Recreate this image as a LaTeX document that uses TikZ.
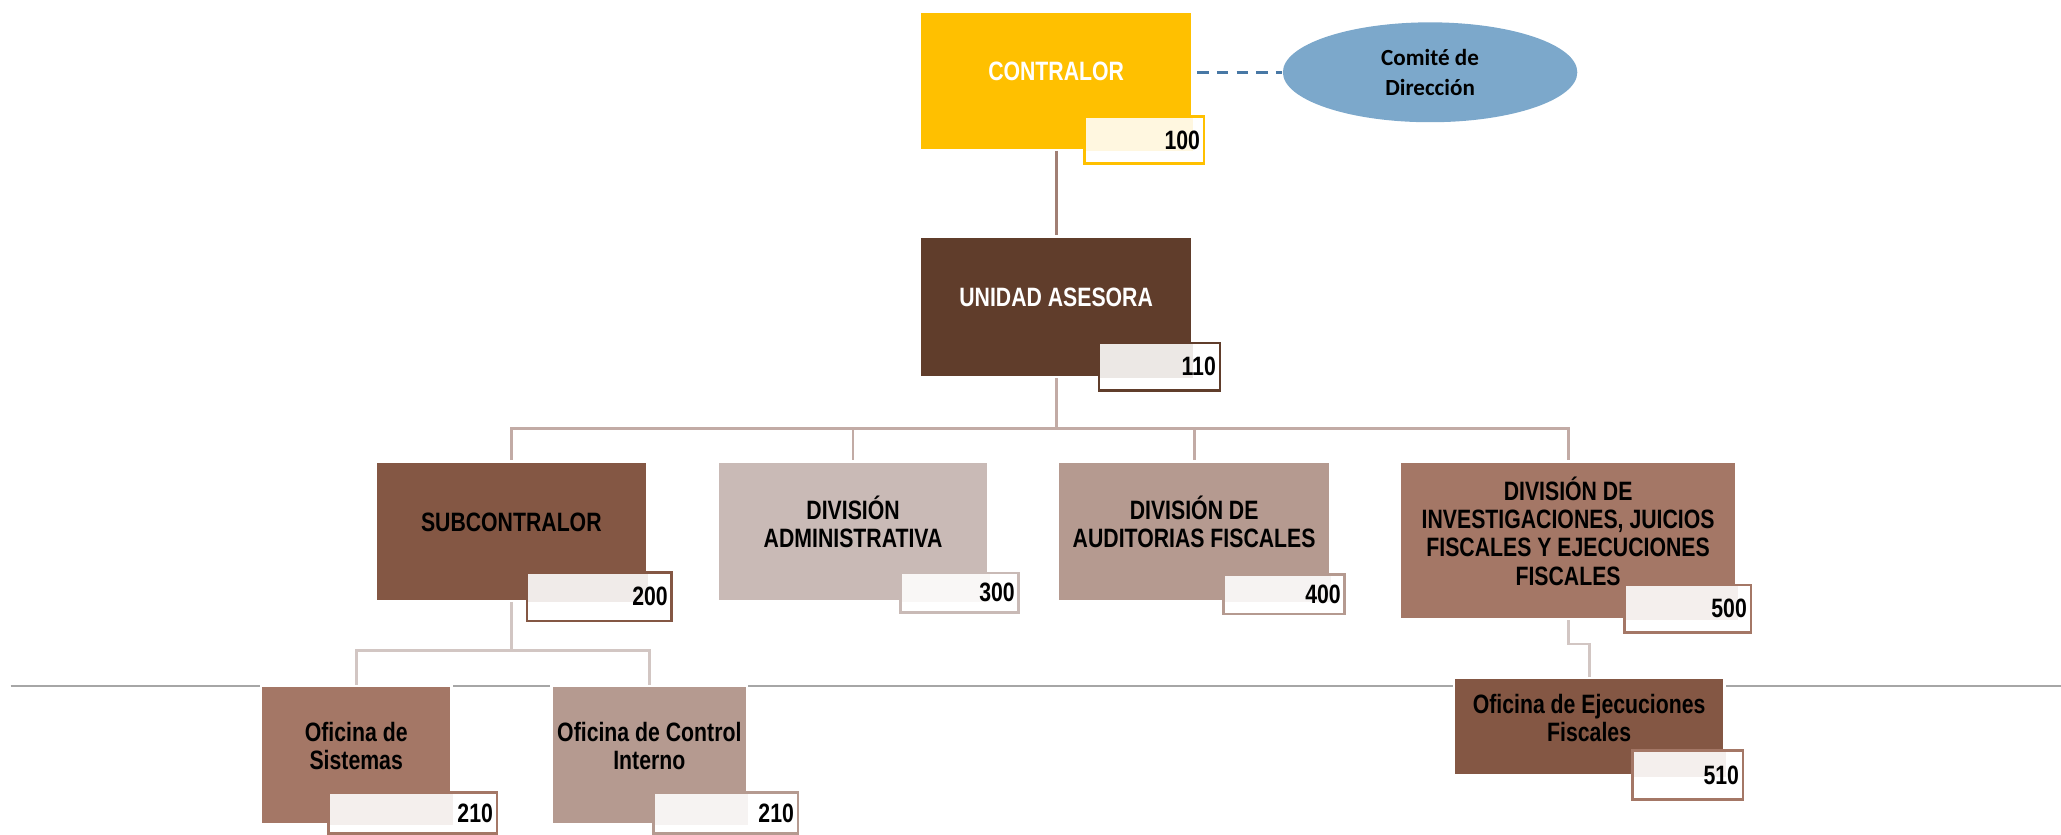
\documentclass[tikz,border=0pt]{standalone}
\usepackage{fontspec}
\setmainfont{Liberation Sans}[FakeStretch=0.8]
\newfontfamily\comitefont{Carlito}
\usepackage{tikz}
\usetikzlibrary{shapes.geometric, positioning}
\definecolor{ctrlgold}{RGB}{255, 192, 0}
\definecolor{comblue}{RGB}{124, 168, 203}
\definecolor{dashblue}{RGB}{72, 120, 165}
\definecolor{unitbrown}{RGB}{96, 61, 43}
\definecolor{subbrown}{RGB}{132, 87, 68}
\definecolor{admrose}{RGB}{201, 186, 182}
\definecolor{audrose}{RGB}{181, 154, 144}
\definecolor{invbrown}{RGB}{164, 119, 102}
\definecolor{topline}{RGB}{161, 127, 116}
\definecolor{busline}{RGB}{194, 171, 165}
\definecolor{subline}{RGB}{210, 198, 195}
\definecolor{rulegray}{RGB}{166, 166, 166}

\begin{document}
\begin{tikzpicture}[x=0.2mm, y=-0.2mm,
    every node/.style={font=\bfseries\fontsize{11.5}{12.3}\selectfont},
    unitbox/.style={draw=white, line width=1pt, align=center, inner sep=1pt,
        execute at end node={\rule[-8pt]{0pt}{8pt}}},
    codebox/.style n args={3}{draw=#1, line width=1.1pt, fill=white, align=right,
        inner xsep=0.6mm, inner ysep=0pt, text width=#3, minimum height=7.2mm,
        path picture={\fill[#1!12] (path picture bounding box.north west) rectangle (#2.south east);}},
    link/.style={line width=1.2pt}]
    \useasboundingbox (0,0) rectangle (1568,635);

    % horizontal rule behind the bottom row
    \coordinate (rule-l) at (8,522);
    \coordinate (rule-r) at (1568,522);
    \draw[rulegray, line width=1.1pt] (rule-l) -- (rule-r);

    \node[unitbox, fill=ctrlgold, text=white, minimum width=41.4mm, minimum height=21mm] (ctrl) at (803.5,61.5) {CONTRALOR};
    \node[ellipse, fill=comblue, minimum width=44.8mm, minimum height=15.2mm, inner sep=0pt, align=center,
        font=\comitefont\bfseries\fontsize{10}{13}\selectfont] (comite) at (1088,55) {Comité de\\Dirección};
    \node[unitbox, fill=unitbrown, text=white, minimum width=41.4mm, minimum height=21.4mm] (unit) at (803.5,233.5) {UNIDAD ASESORA};

    \node[unitbox, fill=subbrown, minimum width=41.2mm, minimum height=21.2mm] (sub) at (389,404) {SUBCONTRALOR};
    \node[unitbox, fill=admrose, minimum width=41.2mm, minimum height=21.2mm] (adm) at (649,404) {DIVISIÓN\\ADMINISTRATIVA};
    \node[unitbox, fill=audrose, minimum width=41.4mm, minimum height=21.2mm] (aud) at (908.5,404) {DIVISIÓN DE\\AUDITORIAS FISCALES};
    \node[unitbox, fill=invbrown, minimum width=51.2mm, minimum height=24mm] (inv) at (1193,411) {DIVISIÓN DE\\INVESTIGACIONES, JUICIOS\\FISCALES Y EJECUCIONES\\FISCALES};

    \node[unitbox, fill=invbrown, minimum width=29mm, minimum height=21mm] (sis) at (271,574.5) {Oficina de\\Sistemas};
    \node[unitbox, fill=audrose, minimum width=29.8mm, minimum height=21mm] (cin) at (494,574.5) {Oficina de Control\\Interno};
    \node[unitbox, fill=subbrown, minimum width=41.2mm, minimum height=14.8mm] (ejec) at (1209,553) {Oficina de Ejecuciones\\Fiscales};

    % connectors
    \draw[link, topline] (ctrl) -- (unit);
    \draw[link, busline] (unit.south) -- ++(0,38) coordinate (busc) -| (sub.north)
        (busc) -| (adm.north) (busc) -| (aud.north) (busc) -| (inv.north);
    \draw[link, subline] (sub.south) -- ++(0,37) coordinate (subc) -| (sis.north)
        (subc) -| (cin.north);
    \draw[link, subline] (inv.south) -- ++(0,18) -| (ejec.north);
    \draw[dashblue, line width=1.3pt, dash pattern=on 5pt off 3.5pt] (comite.west -| ctrl.east) ++(3,0) -- (comite.west);

    % unit codes
    \node[codebox={ctrlgold}{ctrl}{17mm}] (c100) at (870.5,106.5) {100};
    \node[codebox={unitbrown}{unit}{17.2mm}] (c110) at (882,279) {110};
    \node[codebox={subbrown}{sub}{20.8mm}, minimum height=7.4mm] (c200) at (456,454) {200};
    \node[codebox={admrose}{adm}{16.8mm}, minimum height=6mm] (c300) at (730,451) {300};
    \node[codebox={audrose}{aud}{17.2mm}, minimum height=6mm] (c400) at (977,452) {400};
    \node[codebox={invbrown}{inv}{18mm}] (c500) at (1284,463) {500};
    \node[codebox={invbrown}{sis}{24.4mm}, minimum height=6.2mm] (c210a) at (314,618.5) {210};
    \node[codebox={audrose}{cin}{20.8mm}, minimum height=6.2mm] (c210b) at (552,618.5) {210};
    \node[codebox={invbrown}{ejec}{15.6mm}, minimum height=7.4mm] (c510) at (1284,589.6) {510};
\end{tikzpicture}
\end{document}
